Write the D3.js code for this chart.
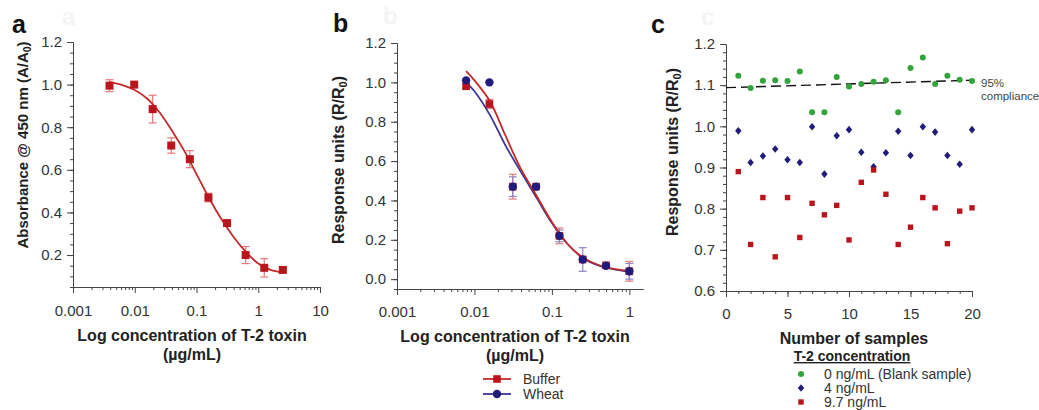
<!DOCTYPE html>
<html>
<head>
<meta charset="utf-8">
<script src="https://cdn.jsdelivr.net/npm/d3@7"></script>
<style>
  body { margin: 0; background: #fff; }
  svg { font-family: "Liberation Sans", Arial, sans-serif; }
  .axis path, .axis line { stroke: #444; }
  .axis text { fill: #333; font-size: 15px; }
</style>
</head>
<body>
<div id="chart"></div>
<script>
// panel a : ELISA, T-2 toxin
var concA = [0.0039, 0.0098, 0.0195, 0.039, 0.078, 0.156, 0.3125, 0.625, 1.25, 2.5];
var absA = [0.995, 1.0, 0.885, 0.714, 0.65, 0.47, 0.35, 0.20, 0.14, 0.13];
var errA = [0.028, 0, 0.065, 0.036, 0.04, 0.02, 0.01, 0.04, 0.043, 0.01];
// fitted curve
var fitA = [[0.0039, 1.012], [0.0063, 0.998], [0.01, 0.975], [0.0158, 0.935], [0.0251, 0.87],
  [0.0398, 0.785], [0.0631, 0.69], [0.1, 0.58], [0.158, 0.47], [0.251, 0.37], [0.398, 0.285],
  [0.631, 0.215], [1.0, 0.16], [1.585, 0.13], [2.5, 0.118]];

// panel b : SPR, buffer vs wheat
var concB = [0.0078, 0.0156, 0.03125, 0.0625, 0.125, 0.25, 0.5, 1];
var buffer = [0.98, 0.89, 0.47, 0.47, 0.22, 0.10, 0.07, 0.04];
var bufferErr = [0.01, 0.023, 0.063, 0, 0.04, 0, 0, 0.05];
var wheat = [1.01, 1.0, 0.47, 0.47, 0.22, 0.10, 0.068, 0.04];
var wheatErr = [0, 0, 0.05, 0, 0.03, 0.06, 0, 0.04];
var fitBuffer = [[0.0078, 1.057], [0.01, 1.01], [0.0158, 0.905], [0.0251, 0.73], [0.0398, 0.56],
  [0.0631, 0.425], [0.1, 0.29], [0.158, 0.18], [0.251, 0.11], [0.398, 0.072], [0.631, 0.052], [1.0, 0.042]];
var fitWheat = [[0.0078, 1.0], [0.01, 0.955], [0.0158, 0.835], [0.0251, 0.68], [0.0398, 0.545],
  [0.0631, 0.415], [0.1, 0.285], [0.158, 0.18], [0.251, 0.108], [0.398, 0.07], [0.631, 0.05], [1.0, 0.038]];

// panel c : 20 samples at 3 concentrations
var samples = d3.range(1, 21);
var blank = [1.123, 1.093, 1.111, 1.112, 1.110, 1.133, 1.034, 1.034, 1.120, 1.097,
  1.103, 1.108, 1.112, 1.034, 1.142, 1.167, 1.103, 1.123, 1.113, 1.110];
var conc4 = [0.989, 0.912, 0.928, 0.945, 0.919, 0.912, 0.999, 0.884, 0.977, 0.992,
  0.937, 0.902, 0.936, 0.988, 0.929, 0.999, 0.986, 0.929, 0.908, 0.992];
var conc97 = [0.890, 0.713, 0.827, 0.683, 0.827, 0.730, 0.813, 0.785, 0.808, 0.724,
  0.864, 0.894, 0.835, 0.713, 0.755, 0.827, 0.802, 0.715, 0.794, 0.802];
var compliance = [[0, 1.094], [20, 1.112]];

var RED = "#b8161c", REDFIT = "#c42a2a", REDERR = "#e27a7a";
var NAVY = "#211c7c", NAVYFIT = "#3a3590", NAVYERR = "#8a86cc", GREEN = "#33a43c";
var DIAMOND = "M0,-3.8L3.2,0L0,3.8L-3.2,0Z";

var svg = d3.select("#chart").append("svg")
    .attr("width", 1039)
    .attr("height", 410);

function logMinors(lo, hi) {
    var out = [];
    for (var e = Math.floor(Math.log10(lo)); e < Math.ceil(Math.log10(hi)); e++) {
        for (var k = 2; k < 10; k++) {
            var v = k * Math.pow(10, e);
            if (v > lo && v < hi) out.push(v);
        }
    }
    return out;
}

function drawAxes(xScale, yScale, xMaj, xMin, yMaj, yMin, xFmt, yFmt, xPad) {
    var x0 = xScale.range()[0], y0 = yScale.range()[0];
    svg.append("g").attr("class", "axis")
        .attr("transform", `translate(0,${y0})`)
        .call(d3.axisBottom(xScale).tickValues(xMin).tickSize(3).tickSizeOuter(0).tickFormat(""));
    svg.append("g").attr("class", "axis")
        .attr("transform", `translate(0,${y0})`)
        .call(d3.axisBottom(xScale).tickValues(xMaj).tickSize(6).tickSizeOuter(0).tickPadding(xPad).tickFormat(xFmt));
    svg.append("g").attr("class", "axis")
        .attr("transform", `translate(${x0},0)`)
        .call(d3.axisLeft(yScale).tickValues(yMin).tickSize(3).tickSizeOuter(0).tickFormat(""));
    svg.append("g").attr("class", "axis")
        .attr("transform", `translate(${x0},0)`)
        .call(d3.axisLeft(yScale).tickValues(yMaj).tickSize(6).tickSizeOuter(0).tickPadding(5).tickFormat(yFmt));
}

function yTitle(x, y, main, sub, tail, size) {
    var t = svg.append("text")
        .attr("transform", `translate(${x},${y}) rotate(-90)`)
        .attr("text-anchor", "middle")
        .attr("dy", "0.35em")
        .style("font-size", size + "px")
        .style("font-weight", "bold")
        .style("fill", "#222");
    t.append("tspan").text(main);
    t.append("tspan").attr("dy", "0.3em").style("font-size", (size * 0.7) + "px").text(sub);
    t.append("tspan").attr("dy", "-0.21em").text(tail);
}

function xTitle(x, y, lines) {
    lines.forEach(function(s, i) {
        svg.append("text")
            .attr("x", x).attr("y", y + i * 19)
            .attr("text-anchor", "middle")
            .style("font-size", "16px")
            .style("font-weight", "bold")
            .style("fill", "#222")
            .text(s);
    });
}

function panelLetter(x, y, s) {
    // faint ghost letter left behind in the original figure
    svg.append("text").attr("x", x + 50).attr("y", y - 8)
        .style("font-size", "24px").style("font-weight", "bold").style("fill", "#f4f4f4").text(s);
    svg.append("text").attr("x", x).attr("y", y)
        .style("font-size", "25px").style("font-weight", "bold").style("fill", "#111").text(s);
}

function errorBars(xs, ys, es, xScale, yScale, color) {
    xs.forEach(function(xv, i) {
        if (!es[i]) return;
        var cx = xScale(xv), t = yScale(ys[i] + es[i]), b = yScale(ys[i] - es[i]);
        var g = svg.append("g").style("stroke", color).style("stroke-width", 1.2);
        g.append("line").attr("x1", cx).attr("x2", cx).attr("y1", t).attr("y2", b);
        g.append("line").attr("x1", cx - 4).attr("x2", cx + 4).attr("y1", t).attr("y2", t);
        g.append("line").attr("x1", cx - 4).attr("x2", cx + 4).attr("y1", b).attr("y2", b);
    });
}

var fmtLog = function(d) { return d >= 1 ? d3.format("d")(d) : d3.format(".3~f")(d); };
var fmt1 = d3.format(".1f");

// ---------- panel a ----------
var xA = d3.scaleLog().domain([0.001, 10]).range([73, 320]);
var yA = d3.scaleLinear().domain([0.05, 1.2]).range([287, 42]);
drawAxes(xA, yA, [0.001, 0.01, 0.1, 1, 10], logMinors(0.001, 10),
    [0.2, 0.4, 0.6, 0.8, 1.0, 1.2], d3.range(0.05, 1.2, 0.05), fmtLog, fmt1, 12);

var lineA = d3.line().x(function(d) { return xA(d[0]); }).y(function(d) { return yA(d[1]); }).curve(d3.curveCatmullRom);
errorBars(concA, absA, errA, xA, yA, REDERR);
svg.append("path").datum(fitA).attr("d", lineA)
    .style("fill", "none").style("stroke", REDFIT).style("stroke-width", 1.8);
svg.selectAll(".ptA").data(concA).enter().append("rect")
    .attr("x", function(d) { return xA(d) - 4; })
    .attr("y", function(d, i) { return yA(absA[i]) - 4; })
    .attr("width", 8).attr("height", 8)
    .style("fill", RED);

yTitle(23, 145, "Absorbance @ 450 nm (A/A", "0", ")", 15);
xTitle(192, 341, ["Log concentration of T-2 toxin", "(µg/mL)"]);
panelLetter(12, 33, "a");

// ---------- panel b ----------
var xB = d3.scaleLog().domain([0.001, 1.5]).range([397, 643]);
var yB = d3.scaleLinear().domain([-0.05, 1.2]).range([289, 43]);
drawAxes(xB, yB, [0.001, 0.01, 0.1, 1], logMinors(0.001, 1.5),
    [0.0, 0.2, 0.4, 0.6, 0.8, 1.0, 1.2], d3.range(-0.05, 1.2, 0.05), fmtLog, fmt1, 11);

var lineB = d3.line().x(function(d) { return xB(d[0]); }).y(function(d) { return yB(d[1]); }).curve(d3.curveCatmullRom);
errorBars(concB, buffer, bufferErr, xB, yB, REDERR);
errorBars(concB, wheat, wheatErr, xB, yB, NAVYERR);
svg.append("path").datum(fitWheat).attr("d", lineB)
    .style("fill", "none").style("stroke", NAVYFIT).style("stroke-width", 1.8);
svg.append("path").datum(fitBuffer).attr("d", lineB)
    .style("fill", "none").style("stroke", REDFIT).style("stroke-width", 1.8);
svg.selectAll(".ptBuf").data(concB).enter().append("rect")
    .attr("x", function(d) { return xB(d) - 3.8; })
    .attr("y", function(d, i) { return yB(buffer[i]) - 3.8; })
    .attr("width", 7.6).attr("height", 7.6)
    .style("fill", RED);
svg.selectAll(".ptWheat").data(concB).enter().append("circle")
    .attr("cx", function(d) { return xB(d); })
    .attr("cy", function(d, i) { return yB(wheat[i]); })
    .attr("r", 4.2)
    .style("fill", NAVY);

yTitle(338, 160, "Response units (R/R", "0", ")", 16);
xTitle(515, 342, ["Log concentration of T-2 toxin", "(µg/mL)"]);
panelLetter(333, 32, "b");

// legend b
var legB = [["Buffer", RED, REDFIT], ["Wheat", NAVY, NAVYFIT]];
legB.forEach(function(d, i) {
    var ly = 379 + i * 15;
    svg.append("line").attr("x1", 483).attr("x2", 511).attr("y1", ly).attr("y2", ly)
        .style("stroke", d[2]).style("stroke-width", 1.8);
    if (i === 0) {
        svg.append("rect").attr("x", 497 - 3.8).attr("y", ly - 3.8).attr("width", 7.6).attr("height", 7.6).style("fill", d[1]);
    } else {
        svg.append("circle").attr("cx", 497).attr("cy", ly).attr("r", 4.2).style("fill", d[1]);
    }
    svg.append("text").attr("x", 523).attr("y", ly + 5)
        .style("font-size", "14px").style("fill", "#333").text(d[0]);
});

// ---------- panel c ----------
var xC = d3.scaleLinear().domain([0, 20]).range([726, 972]);
var yC = d3.scaleLinear().domain([0.6, 1.2]).range([291, 44]);
drawAxes(xC, yC, [0, 5, 10, 15, 20], d3.range(1, 20), [0.6, 0.7, 0.8, 0.9, 1.0, 1.1, 1.2],
    d3.range(0.62, 1.2, 0.02), d3.format("d"), fmt1, 11);

svg.append("line")
    .attr("x1", xC(compliance[0][0])).attr("y1", yC(compliance[0][1]))
    .attr("x2", xC(compliance[1][0])).attr("y2", yC(compliance[1][1]))
    .style("stroke", "#111").style("stroke-width", 1.4).style("stroke-dasharray", "10,5");

svg.selectAll(".ptBlank").data(samples).enter().append("circle")
    .attr("cx", function(d) { return xC(d); })
    .attr("cy", function(d, i) { return yC(blank[i]); })
    .attr("r", 3)
    .style("fill", GREEN);
svg.selectAll(".pt4").data(samples).enter().append("path")
    .attr("d", DIAMOND)
    .attr("transform", function(d, i) { return `translate(${xC(d)},${yC(conc4[i])})`; })
    .style("fill", NAVY);
svg.selectAll(".pt97").data(samples).enter().append("rect")
    .attr("x", function(d) { return xC(d) - 2.7; })
    .attr("y", function(d, i) { return yC(conc97[i]) - 2.7; })
    .attr("width", 5.4).attr("height", 5.4)
    .style("fill", RED);

svg.append("text").attr("x", 981).attr("y", 87).style("font-size", "11.5px").style("fill", "#444").text("95%");
svg.append("text").attr("x", 981).attr("y", 99.5).style("font-size", "11.5px").style("fill", "#444").text("compliance");

yTitle(672, 152, "Response units (R/R", "0", ")", 16);
xTitle(854, 344, ["Number of samples"]);
panelLetter(651, 33, "c");

// legend c
svg.append("text").attr("x", 852).attr("y", 361).attr("text-anchor", "middle")
    .style("font-size", "14px").style("font-weight", "bold").style("fill", "#222")
    .style("text-decoration", "underline").text("T-2 concentration");
var legC = ["0 ng/mL (Blank sample)", "4 ng/mL", "9.7 ng/mL"];
legC.forEach(function(s, i) {
    var ly = 374 + i * 14;
    if (i === 0) svg.append("circle").attr("cx", 801).attr("cy", ly).attr("r", 3).style("fill", GREEN);
    if (i === 1) svg.append("path").attr("d", DIAMOND)
        .attr("transform", `translate(801,${ly})`).style("fill", NAVY);
    if (i === 2) svg.append("rect").attr("x", 801 - 2.7).attr("y", ly - 2.7)
        .attr("width", 5.4).attr("height", 5.4).style("fill", RED);
    svg.append("text").attr("x", 824).attr("y", ly + 5)
        .style("font-size", "14px").style("fill", "#333").text(s);
});
</script>
</body>
</html>
